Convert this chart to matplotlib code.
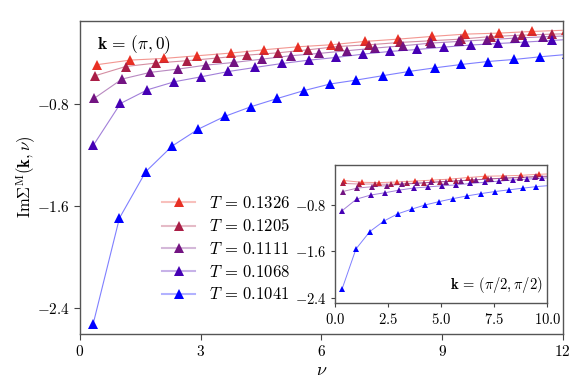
import matplotlib
matplotlib.use("Agg")
import matplotlib.pyplot as plt
from matplotlib.colors import to_rgba
from matplotlib.lines import Line2D

plt.rcParams["font.family"] = "serif"
plt.rcParams["font.serif"] = ["cmr10"]
plt.rcParams["mathtext.fontset"] = "cm"
plt.rcParams["axes.formatter.use_mathtext"] = True

TEMPS = ["0.1326", "0.1205", "0.1111", "0.1068", "0.1041"]
COLORS = ["#e83024", "#aa1e46", "#731482", "#4600b4", "#0000ff"]

# k = (pi, 0): Matsubara frequencies and Im Sigma
NU_1326 = [0.417, 1.250, 2.083, 2.916, 3.749, 4.582, 5.415, 6.248, 7.082, 7.915,
           8.748, 9.581, 10.414, 11.247, 12.080]
NU_1205 = [0.379, 1.136, 1.893, 2.650, 3.407, 4.164, 4.921, 5.678, 6.436, 7.193,
           7.950, 8.707, 9.464, 10.221, 10.978, 11.735, 12.493]
NU_1111 = [0.349, 1.047, 1.745, 2.443, 3.141, 3.839, 4.537, 5.235, 5.933, 6.632,
           7.330, 8.028, 8.726, 9.424, 10.122, 10.820, 11.518, 12.216]
NU_1068 = [0.336, 1.007, 1.678, 2.349, 3.020, 3.691, 4.362, 5.033, 5.704, 6.375,
           7.046, 7.717, 8.388, 9.059, 9.730, 10.401, 11.072, 11.743, 12.414]
NU_1041 = [0.327, 0.981, 1.635, 2.290, 2.944, 3.598, 4.252, 4.906, 5.560, 6.214,
           6.868, 7.522, 8.176, 8.830, 9.484, 10.138, 10.792, 11.446, 12.100]

MAIN_1326 = [-0.495, -0.459, -0.446, -0.425, -0.404, -0.378, -0.355, -0.339, -0.313,
             -0.295, -0.274, -0.256, -0.248, -0.235, -0.225]
MAIN_1205 = [-0.581, -0.509, -0.482, -0.464, -0.443, -0.420, -0.402, -0.378, -0.352,
             -0.339, -0.321, -0.308, -0.295, -0.275, -0.264, -0.256, -0.250]
MAIN_1111 = [-0.759, -0.607, -0.555, -0.529, -0.498, -0.477, -0.451, -0.425, -0.407,
             -0.386, -0.365, -0.347, -0.326, -0.313, -0.300, -0.287, -0.277, -0.268]
MAIN_1068 = [-1.123, -0.798, -0.691, -0.628, -0.589, -0.548, -0.516, -0.485, -0.459,
             -0.438, -0.412, -0.391, -0.376, -0.357, -0.341, -0.329, -0.318, -0.305,
             -0.293]
MAIN_1041 = [-2.522, -1.694, -1.331, -1.131, -0.998, -0.899, -0.823, -0.759, -0.698,
             -0.646, -0.615, -0.581, -0.548, -0.519, -0.493, -0.470, -0.454, -0.433,
             -0.415]

# k = (pi/2, pi/2)
INSET_1326 = [-0.380, -0.410, -0.415, -0.405, -0.390, -0.372, -0.355, -0.328, -0.305,
              -0.300, -0.290, -0.272, -0.262]
INSET_1205 = [-0.430, -0.440, -0.440, -0.445, -0.430, -0.420, -0.400, -0.388, -0.370,
              -0.352, -0.338, -0.322, -0.310, -0.300, -0.290]
INSET_1111 = [-0.570, -0.510, -0.486, -0.469, -0.445, -0.428, -0.410, -0.398, -0.380,
              -0.368, -0.352, -0.340, -0.330, -0.318, -0.308, -0.300]
INSET_1068 = [-0.898, -0.700, -0.630, -0.590, -0.545, -0.510, -0.490, -0.470, -0.455,
              -0.430, -0.410, -0.390, -0.370, -0.355, -0.340, -0.325]
INSET_1041 = [-2.250, -1.560, -1.260, -1.080, -0.955, -0.874, -0.800, -0.743, -0.691,
              -0.645, -0.605, -0.570, -0.541, -0.512, -0.484, -0.465]

NUS = [NU_1326, NU_1205, NU_1111, NU_1068, NU_1041]
MAIN = [MAIN_1326, MAIN_1205, MAIN_1111, MAIN_1068, MAIN_1041]
INSET = [INSET_1326, INSET_1205, INSET_1111, INSET_1068, INSET_1041]

fig = plt.figure(figsize=(5.88, 3.88), dpi=100)
ax = fig.add_axes([0.136, 0.139, 0.821, 0.808])
axin = fig.add_axes([0.570, 0.218, 0.361, 0.357])

handles = []
for nu, y, c, t in zip(NUS, MAIN, COLORS, TEMPS):
    ax.plot(nu, y, color=to_rgba(c, 0.5), lw=0.8)
    ax.plot(nu, y, ls="none", marker="^", ms=7.5, color=c, mew=0)
    handles.append(Line2D([], [], color=to_rgba(c, 0.3), lw=1.5, marker="^", ms=7.5,
                          mfc=c, mec=c, mew=0, label=rf"$T\,=\,{t}$"))

for nu, y, c in zip(NUS, INSET, COLORS):
    nu = nu[:len(y)]
    axin.plot(nu, y, color=to_rgba(c, 0.5), lw=0.7)
    axin.plot(nu, y, ls="none", marker="^", ms=4.5, color=c, mew=0)

ax.set_xlim(0, 12)
ax.set_ylim(-2.6, -0.15)
ax.set_xticks([0, 3, 6, 9, 12])
ax.set_yticks([-2.4, -1.6, -0.8])
ax.set_xlabel(r"$\nu$", fontsize=13, labelpad=2)
ax.set_ylabel(r"$\mathrm{Im}\Sigma^{\mathrm{M}}(\mathbf{k},\nu)$", fontsize=12, labelpad=-1)
ax.tick_params(labelsize=11, length=4, color="#444444")
ax.text(0.035, 0.96, r"$\mathbf{k}\,=\,(\pi, 0)$", transform=ax.transAxes,
        fontsize=12.5, va="top", ha="left")
ax.legend(handles=handles, loc="lower left", bbox_to_anchor=(0.146, 0.064),
          frameon=False, fontsize=12, handlelength=2.0, labelspacing=0.4,
          borderaxespad=0.3)

axin.set_xlim(0, 10)
axin.set_ylim(-2.5, -0.11)
axin.set_xticks([0, 2.5, 5, 7.5, 10])
axin.set_yticks([-2.4, -1.6, -0.8])
axin.xaxis.set_major_formatter(matplotlib.ticker.FormatStrFormatter("$%.1f$"))
axin.tick_params(labelsize=10.5, length=3, color="#444444")
axin.text(0.98, 0.06, r"$\mathbf{k}\,=\,(\pi/2, \pi/2)$", transform=axin.transAxes,
          fontsize=10.5, va="bottom", ha="right")

for a in (ax, axin):
    for s in a.spines.values():
        s.set_color("#555555")
        s.set_linewidth(1.0)

fig.savefig("out.png", dpi=100)
